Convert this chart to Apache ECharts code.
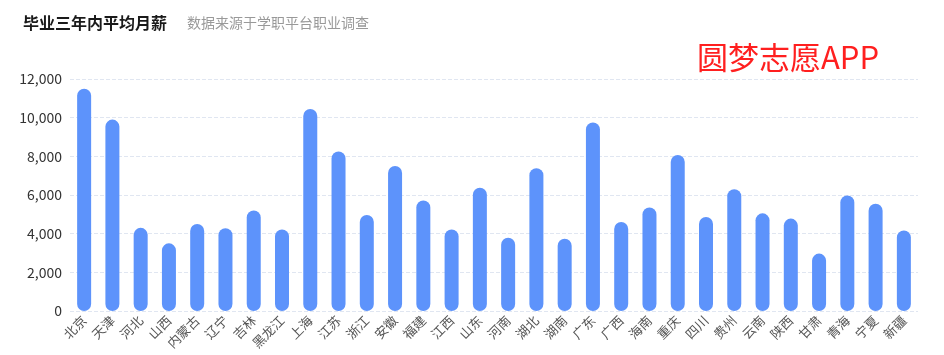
<!DOCTYPE html>
<html>
<head>
<meta charset="utf-8">
<script src="https://cdn.jsdelivr.net/npm/echarts@6/dist/echarts.min.js"></script>
<style>
    html, body { margin: 0; padding: 0; background: #fff; }
    #chart { width: 944px; height: 355px; }
</style>
</head>
<body>
<div id="chart"></div>
<script>
    // 省份
    var provinces = ['北京', '天津', '河北', '山西', '内蒙古', '辽宁', '吉林', '黑龙江', '上海', '江苏',
        '浙江', '安徽', '福建', '江西', '山东', '河南', '湖北', '湖南', '广东', '广西',
        '海南', '重庆', '四川', '贵州', '云南', '陕西', '甘肃', '青海', '宁夏', '新疆']
    // 平均月薪
    var salaries = [11500, 9900, 4300, 3500, 4500, 4280, 5200, 4220, 10450, 8250,
        4970, 7500, 5720, 4220, 6380, 3790, 7380, 3740, 9750, 4600,
        5350, 8070, 4860, 6300, 5050, 4780, 2970, 5980, 5550, 4170]

    var font = '"Noto Sans CJK SC", "Noto Sans", sans-serif'
    var chart = echarts.init(document.getElementById('chart'))
    chart.setOption({
        title: [{
            text: '毕业三年内平均月薪',
            left: 23,
            top: 15,
            padding: 0,
            textStyle: { fontSize: 16, fontWeight: 'bold', color: '#1a1a1a', fontFamily: font }
        }, {
            text: '数据来源于学职平台职业调查',
            left: 187,
            top: 16,
            padding: 0,
            textStyle: { fontSize: 14, fontWeight: 'normal', color: '#999', fontFamily: font }
        }],
        graphic: [{
            type: 'text',
            left: 697,
            top: 42,
            style: { text: '圆梦志愿APP', fontSize: 31, fill: '#ff1f1f', fontFamily: font }
        }],
        grid: { left: 70, right: 26, top: 79, bottom: 44 },
        xAxis: {
            type: 'category',
            data: provinces,
            axisLine: { show: false },
            axisTick: { show: false },
            axisLabel: {
                interval: 0,
                rotate: 45,
                margin: 7,
                fontSize: 13,
                color: '#555',
                fontFamily: font
            }
        },
        yAxis: {
            type: 'value',
            min: 0,
            max: 12000,
            interval: 2000,
            axisLabel: {
                fontSize: 14,
                color: '#333',
                margin: 8,
                fontFamily: font,
                formatter: function (v) { return v.toLocaleString('en-US') }
            },
            splitLine: { lineStyle: { type: 'dashed', color: '#e0e6f1' } }
        },
        series: [{
            type: 'bar',
            data: salaries,
            barWidth: 14,
            itemStyle: { color: '#5d93fb', borderRadius: 7 }
        }]
    })
</script>
</body>
</html>
